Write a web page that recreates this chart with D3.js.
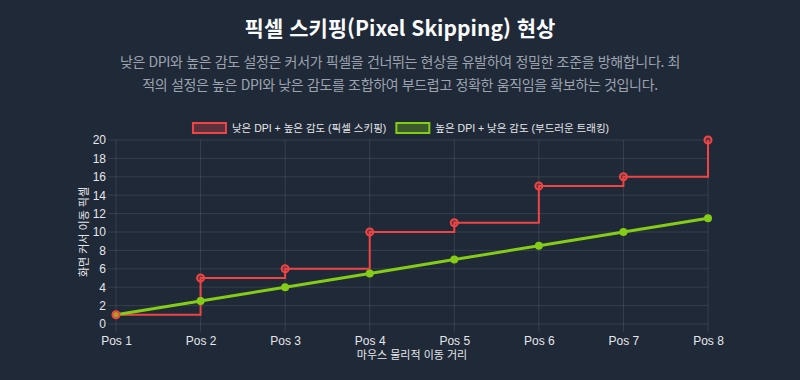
<!DOCTYPE html>
<html lang="ko">
<head>
<meta charset="utf-8">
<script src="https://cdn.jsdelivr.net/npm/d3@7/dist/d3.min.js"></script>
<style>
  html, body { margin: 0; padding: 0; background: #1f2937; }
  body { width: 800px; height: 380px; overflow: hidden; font-family: "Noto Sans CJK KR", "Noto Sans", sans-serif; }
  h1 { margin: 0; position: absolute; top: 12px; left: 0; width: 800px; text-align: center;
       font-size: 21px; font-weight: 700; color: #f9fafb; line-height: 30px; }
  p { margin: 0; position: absolute; top: 50px; left: 0; width: 800px; text-align: center;
      font-size: 14px; letter-spacing: -0.35px; color: #9ca3af; line-height: 23px; white-space: nowrap; }
  #chart { position: absolute; top: 0; left: 0; }
  .tick text, .lab { font-family: "Liberation Sans", Arial, "Noto Sans CJK KR", sans-serif; }
</style>
</head>
<body>
<h1>픽셀 스키핑(Pixel Skipping) 현상</h1>
<p>낮은 DPI와 높은 감도 설정은 커서가 픽셀을 건너뛰는 현상을 유발하여 정밀한 조준을 방해합니다. 최<br>적의 설정은 높은 DPI와 낮은 감도를 조합하여 부드럽고 정확한 움직임을 확보하는 것입니다.</p>
<div id="chart"></div>
<script>
const labels = ["Pos 1", "Pos 2", "Pos 3", "Pos 4", "Pos 5", "Pos 6", "Pos 7", "Pos 8"];
const skipping = [1, 5, 6, 10, 11, 15, 16, 20];
const smooth = [1, 2.5, 4, 5.5, 7, 8.5, 10, 11.5];
const yTicks = [0, 2, 4, 6, 8, 10, 12, 14, 16, 18, 20];
const seriesNames = ["낮은 DPI + 높은 감도 (픽셀 스키핑)", "높은 DPI + 낮은 감도 (부드러운 트래킹)"];

const red = "#ef4444", green = "#84cc16";

const svg = d3.select("#chart").append("svg")
    .attr("width", 800).attr("height", 380);

const plot = { left: 116, right: 708, top: 140, bottom: 324 };

const x = d3.scalePoint().domain(labels).range([plot.left, plot.right]);
const y = d3.scaleLinear().domain([0, 20]).range([plot.bottom, plot.top]);

// grid lines
const grid = svg.append("g");
grid.selectAll(".hg").data(yTicks).enter().append("line")
    .attr("x1", plot.left - 8).attr("x2", plot.right)
    .attr("y1", d => y(d)).attr("y2", d => y(d))
    .attr("stroke", "rgba(255,255,255,0.1)");
grid.selectAll(".vg").data(labels).enter().append("line")
    .attr("x1", d => x(d)).attr("x2", d => x(d))
    .attr("y1", plot.top).attr("y2", plot.bottom + 8)
    .attr("stroke", "rgba(255,255,255,0.1)");

// y axis
const yAxis = svg.append("g")
    .attr("transform", `translate(${plot.left - 8}, 0)`)
    .call(d3.axisLeft(y).tickValues(yTicks).tickSize(0).tickPadding(2));
yAxis.select(".domain").remove();
yAxis.selectAll("text").attr("fill", "#e5e7eb").style("font-size", "12px");

// x axis
const xAxis = svg.append("g")
    .attr("transform", `translate(0, ${plot.bottom + 8})`)
    .call(d3.axisBottom(x).tickSize(0).tickPadding(4));
xAxis.select(".domain").remove();
xAxis.selectAll("text").attr("fill", "#e5e7eb").style("font-size", "12px");

// axis titles
svg.append("text")
    .attr("x", (plot.left + plot.right) / 2).attr("y", 359)
    .attr("text-anchor", "middle")
    .attr("fill", "#e5e7eb")
    .style("font-size", "11px")
    .text("마우스 물리적 이동 거리");

svg.append("text")
    .attr("transform", "rotate(-90)")
    .attr("x", -(plot.top + plot.bottom) / 2).attr("y", 88)
    .attr("text-anchor", "middle")
    .attr("fill", "#e5e7eb")
    .style("font-size", "11px")
    .text("화면 커서 이동 픽셀");

// lines
const redLine = d3.line().x((d, i) => x(labels[i])).y(d => y(d)).curve(d3.curveStepAfter);
const greenLine = d3.line().x((d, i) => x(labels[i])).y(d => y(d));

svg.append("path").datum(skipping)
    .attr("d", redLine).attr("fill", "none")
    .attr("stroke", red).attr("stroke-width", 2);

svg.append("path").datum(smooth)
    .attr("d", greenLine).attr("fill", "none")
    .attr("stroke", green).attr("stroke-width", 3);

// points
svg.append("g").selectAll("circle").data(smooth).enter().append("circle")
    .attr("cx", (d, i) => x(labels[i])).attr("cy", d => y(d))
    .attr("r", 4).attr("fill", green);

svg.append("g").selectAll("circle").data(skipping).enter().append("circle")
    .attr("cx", (d, i) => x(labels[i])).attr("cy", d => y(d))
    .attr("r", 3.5).attr("fill", "rgba(239,68,68,0.3)")
    .attr("stroke", red).attr("stroke-width", 2);

// legend, centred like the original
const legend = [
    { name: seriesNames[0], color: red, fill: "rgba(239,68,68,0.3)" },
    { name: seriesNames[1], color: green, fill: "rgba(132,204,22,0.3)" }
];
const lg = svg.append("g").selectAll("g").data(legend).enter().append("g");
lg.append("rect")
    .attr("x", 1).attr("y", 1).attr("width", 33).attr("height", 10)
    .attr("fill", d => d.fill).attr("stroke", d => d.color).attr("stroke-width", 2);
lg.append("text")
    .attr("class", "lab")
    .attr("x", 40).attr("y", 10)
    .attr("fill", "#e5e7eb")
    .style("font-size", "10.5px")
    .text(d => d.name);

const widths = [];
lg.each(function() { widths.push(this.getBBox().width); });
const gap = 10;
const total = d3.sum(widths) + gap * (widths.length - 1);
let cursor = 400 - total / 2;
lg.attr("transform", (d, i) => {
    const t = `translate(${cursor}, 122)`;
    cursor += widths[i] + gap;
    return t;
});
</script>
</body>
</html>
